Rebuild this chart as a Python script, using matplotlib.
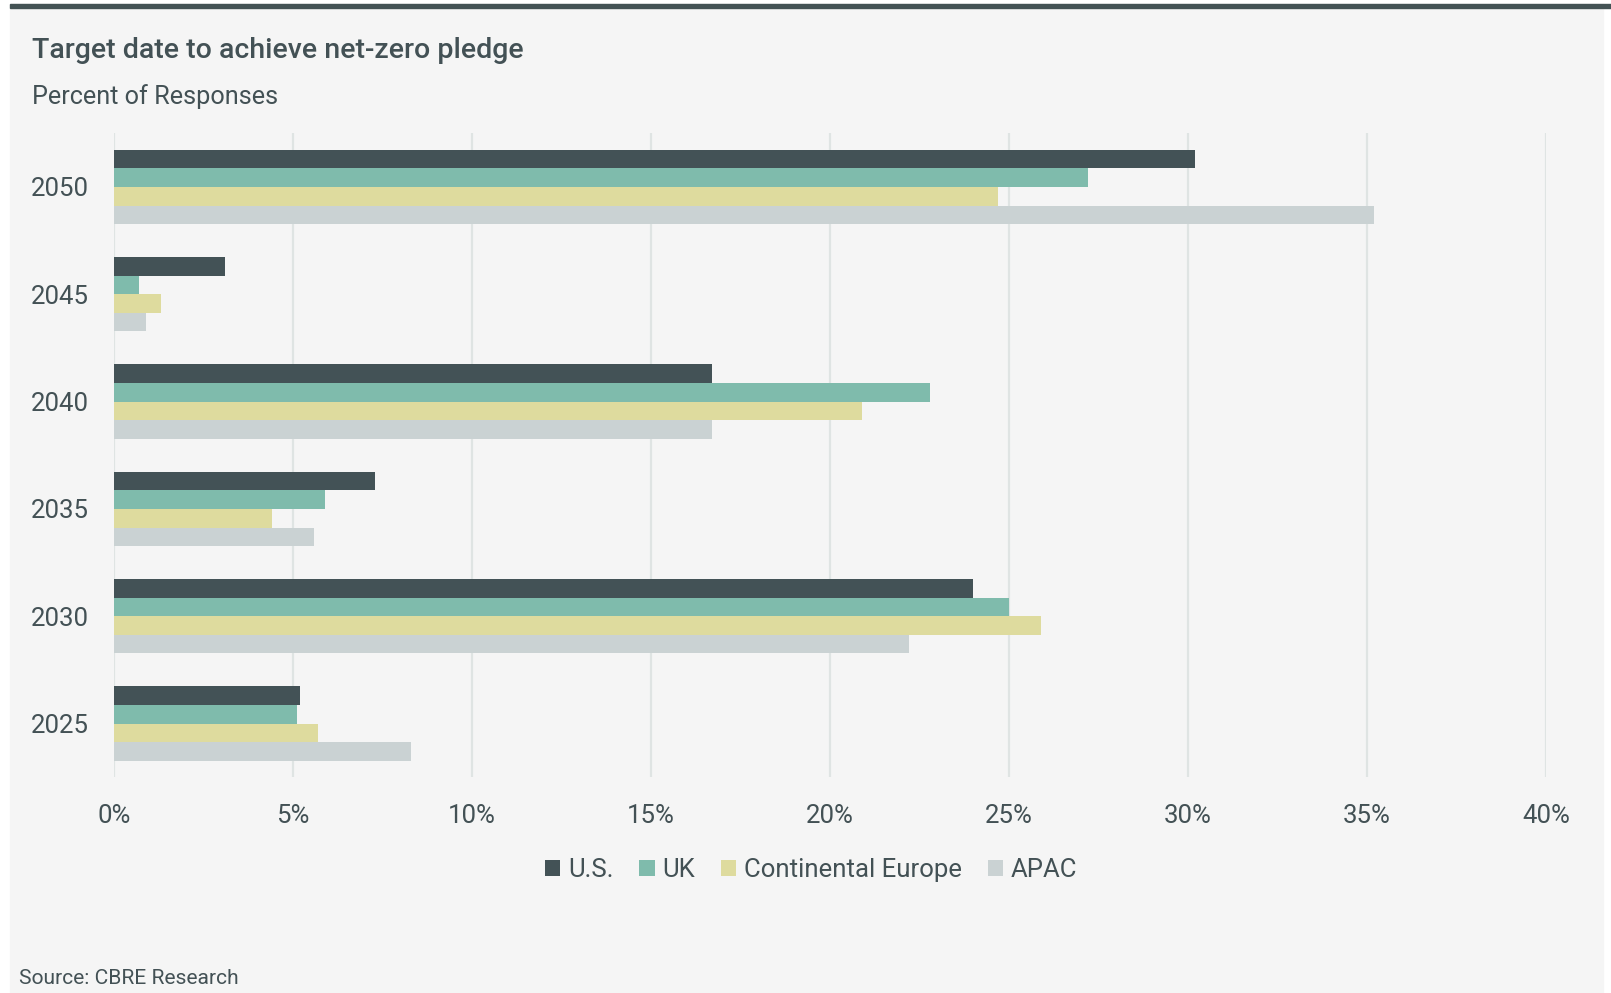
import numpy as np
import matplotlib
matplotlib.use("Agg")
import matplotlib.pyplot as plt
from matplotlib.patches import Rectangle

# data
years = ["2025", "2030", "2035", "2040", "2045", "2050"]
us = [5.2, 24.0, 7.3, 16.7, 3.1, 30.2]
uk = [5.1, 25.0, 5.9, 22.8, 0.7, 27.2]
cont_europe = [5.7, 25.9, 4.4, 20.9, 1.3, 24.7]
apac = [8.3, 22.2, 5.6, 16.7, 0.9, 35.2]
series_names = ["U.S.", "UK", "Continental Europe", "APAC"]
x_ticks = [0, 5, 10, 15, 20, 25, 30, 35, 40]

colors = ["#435256", "#7fbbac", "#dedb9e", "#cad2d3"]
text_color = "#435155"
bg = "#f5f5f5"

plt.rcParams["font.family"] = ["Roboto", "DejaVu Sans"]

W, H = 1611, 993
fig = plt.figure(figsize=(W / 100, H / 100), dpi=100, facecolor="white")

# grey panel and dark top rule
fig.patches.append(Rectangle((10 / W, 0), (1603 - 10) / W, 1 - 4 / H,
                             transform=fig.transFigure, color=bg, zorder=-10))
fig.patches.append(Rectangle((10 / W, 1 - 8 / H), 1 - 10 / W, 4 / H,
                             transform=fig.transFigure, color="#435254", zorder=-9))

ax = fig.add_axes([114 / W, 1 - 777.3 / H, (1546 - 114) / W, (777.3 - 133.3) / H])
ax.set_facecolor("none")

y = np.arange(len(years))
h = 0.173
offsets = [1.5 * h, 0.5 * h, -0.5 * h, -1.5 * h]
for vals, off, col, name in zip([us, uk, cont_europe, apac], offsets, colors, series_names):
    ax.barh(y + off, vals, height=h, color=col, label=name, zorder=3)

ax.set_xlim(0, 40)
ax.set_ylim(-0.5, 5.5)
ax.set_xticks(x_ticks)
ax.set_xticklabels([f"{t}%" for t in x_ticks])
ax.set_yticks(y)
ax.set_yticklabels(years)
ax.grid(axis="x", color="#dfe4e3", linewidth=1.6, zorder=0)
ax.grid(axis="y", visible=False)
for s in ax.spines.values():
    s.set_visible(False)
ax.tick_params(axis="both", length=0, labelsize=18.5, labelcolor=text_color)
ax.tick_params(axis="y", pad=18)
ax.tick_params(axis="x", pad=19)

fig.text(32 / W, 1 - 50 / H, "Target date to achieve net-zero pledge",
         fontsize=20.5, fontweight="medium", color=text_color, va="center", ha="left")
fig.text(32 / W, 1 - 96.5 / H, "Percent of Responses",
         fontsize=18.2, color=text_color, va="center", ha="left")
fig.text(19 / W, 1 - 978 / H, "Source: CBRE Research",
         fontsize=15.1, color=text_color, va="center", ha="left")

leg = fig.legend(loc="center", bbox_to_anchor=(811 / W, 1 - 870 / H), ncol=4,
                 frameon=False, fontsize=18.5, handlelength=0.6, handleheight=0.6,
                 handletextpad=0.3, columnspacing=1.0, borderaxespad=0)
for t in leg.get_texts():
    t.set_color(text_color)

fig.savefig("out.png", dpi=100, facecolor=fig.get_facecolor())
